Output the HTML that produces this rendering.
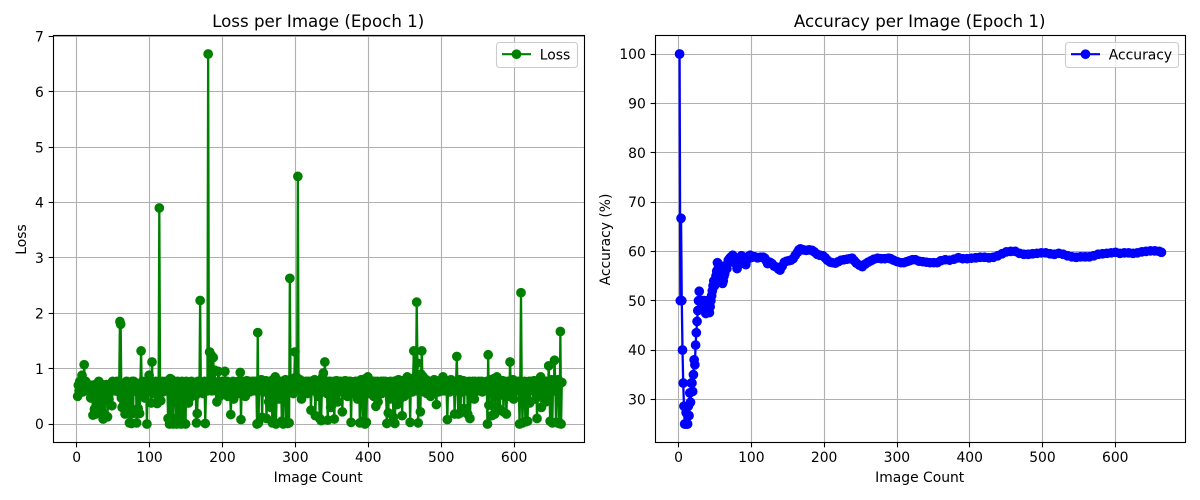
<!DOCTYPE html>
<html lang="en">
<head>
<meta charset="utf-8">
<title>Loss and Accuracy per Image (Epoch 1)</title>
<style>
html,body{margin:0;padding:0;background:#fff}
svg{display:block;font-family:"DejaVu Sans","Liberation Sans",sans-serif}
</style>
</head>
<body>
<svg id="figure" xmlns="http://www.w3.org/2000/svg" width="1200" height="500" viewBox="0 0 1200 500"></svg>
<script>
const xTickLabels = [0, 100, 200, 300, 400, 500, 600];
const lossTickLabels = [0, 1, 2, 3, 4, 5, 6, 7];
const accuracyTickLabels = [30, 40, 50, 60, 70, 80, 90, 100];

/* Loss for images 1, 2, 3, ... (twenty per row) */
const lossValues = [
.50,.70,.60,.77,.58,.58,.88,.58,.70,1.07,.60,.77,.70,.60,.69,.71,.60,.70,.47,.66,
.70,.16,.60,.27,.71,.18,.66,.24,.70,.77,.31,.60,.70,.23,.71,.09,.70,.12,.60,.70,
.71,.13,.60,.45,.70,.58,.71,.33,.77,.60,.69,.71,.60,.60,.77,.70,.58,.71,1.85,1.80,
.47,.30,.70,.35,.58,.18,.71,.77,.25,.60,.70,.02,.60,.71,.01,.77,.19,.77,.60,.70,
.71,.02,.58,.28,.70,.19,.71,1.32,.60,.77,.60,.71,.47,.66,.70,.00,.71,.80,.88,.58,
.70,.38,1.12,.60,.71,.55,.60,.77,.72,.37,.60,.45,3.90,.70,.42,.60,.77,.58,.71,.60,
.70,.77,.60,.71,.10,.60,.00,.82,.02,.80,.78,.00,.76,.40,.70,.10,.00,.77,.02,.72,
.09,.70,.00,.77,.58,.03,.01,.70,.00,.77,.50,.60,.38,.71,.47,.60,.77,.70,.55,.60,
.71,.58,.52,.02,.19,.77,.70,.60,2.23,.60,.71,.60,.55,.70,.77,.01,.60,.70,.60,6.68,
.70,1.30,.77,1.25,.60,.95,1.20,.70,.97,.71,.60,.40,.70,.95,.77,.50,.58,.71,.60,.77,
.70,.60,.95,.71,.60,.77,.50,.60,.70,.71,.17,.58,.60,.77,.45,.70,.71,.60,.60,.70,
.77,.55,.58,.93,.08,.70,.60,.77,.71,.60,.50,.70,.78,.60,.71,.77,.58,.70,.71,.77,
.60,.70,.77,.71,.60,.77,.00,1.65,.02,.70,.60,.73,.80,.12,.71,.58,.60,.77,.78,.10,
.70,.77,.40,.60,.77,.30,.71,.02,.80,.03,.77,.85,.00,.60,.70,.78,.45,.71,.60,.77,
.05,.70,.00,.77,.60,.80,.03,.71,.01,.77,.02,2.63,.70,.58,.82,.77,.55,.77,1.30,.70,
.85,.77,4.47,.60,.77,.80,.70,.45,.77,.58,.60,.76,.70,.77,.60,.55,.77,.70,.58,.77,
.25,.70,.77,.78,.60,.80,.15,.70,.77,.77,.50,.58,.10,.71,.06,.70,.85,.92,.60,1.12,
.77,.70,.55,.07,.58,.77,.77,.30,.70,.35,.60,.77,.09,.70,.45,.78,.58,.40,.77,.70,
.77,.58,.70,.22,.77,.60,.70,.78,.71,.60,.50,.70,.77,.60,.77,.03,.70,.76,.55,.71,
.60,.77,.60,.77,.45,.70,.77,.02,.58,.80,.70,.05,.77,.71,.00,.82,.03,.70,.85,.60,
.77,.55,.78,.70,.58,.77,.50,.77,.60,.32,.70,.77,.40,.58,.76,.70,.77,.55,.60,.77,
.71,.70,.77,.60,.01,.76,.20,.70,.45,.77,.60,.76,.70,.12,.77,.01,.58,.78,.35,.70,
.80,.77,.45,.60,.78,.15,.70,.77,.50,.58,.80,.77,.85,.70,.60,.77,.03,.77,.70,.58,
.78,1.32,.70,.85,.60,2.20,1.10,.02,.78,.70,.22,.90,1.32,.70,.85,.58,.77,.77,.80,.55,
.77,.60,.76,.70,.50,.77,.60,.77,.70,.80,.77,.60,.35,.76,.70,.58,.78,.77,.70,.60,
.76,.85,.70,.60,.78,.77,.60,.08,.70,.77,.58,.77,.80,.70,.77,.60,.77,.18,.70,.76,
1.22,.60,.18,.77,.80,.20,.70,.77,.58,.78,.28,.77,.70,.60,.76,.18,.70,.77,.10,.58,
.76,.70,.77,.60,.45,.77,.70,.76,.60,.60,.77,.60,.70,.76,.77,.58,.70,.60,.75,.70,
.60,.77,.00,1.25,.34,.76,.58,.80,.15,.77,.70,.82,.18,.60,.77,.85,.30,.77,.58,.25,
.70,.77,.60,.78,.22,.77,.50,.70,.18,.58,.77,.77,.50,1.12,.70,.60,.77,.80,.45,.70,
.77,.60,.70,.60,.77,.70,.00,.77,2.37,.70,.02,.58,.60,.77,.04,.70,.76,.05,.60,.77,
.38,.77,.70,.60,.77,.60,.78,.70,.45,.77,.10,.58,.77,.70,.82,.85,.30,.77,.50,.60,
.77,.70,.40,.77,.58,.50,1.05,.70,.05,.58,.80,.02,.77,.60,1.15,.78,.03,.77,.60,.80,
.01,.02,1.67,.00,.75
];

/* Running accuracy: image number and value at that image */
const accuracyCounts = [
1,2,3,4,5,6,7,8,9,10,11,12,13,14,15,16,17,18,19,20,
21,22,23,24,25,26,27,28,29,30,31,32,33,34,35,36,37,38,39,40,
41,42,43,44,45,46,47,48,49,50,51,52,53,54,55,56,57,58,59,60,
61,62,63,64,65,66,67,68,69,70,71,72,73,74,76,78,80,82,84,86,
88,90,92,94,96,98,100,104,108,112,116,118,120,122,125,128,131,134,137,139,
142,145,148,151,154,157,160,163,165,167,171,175,179,183,186,190,194,198,201,204,
208,211,215,219,223,227,231,235,238,241,244,248,252,256,260,264,268,273,278,283,
288,291,295,300,305,309,313,317,321,325,330,335,340,345,350,355,360,366,372,378,
384,390,396,402,408,414,420,426,432,438,444,450,456,462,468,474,480,486,492,498,
504,510,516,522,528,534,540,546,552,558,564,570,576,582,588,594,600,606,612,618,
624,630,636,642,648,654,660,663
];
const accuracyValues = [
100,50,66.7,50,40,33.3,28.6,25,25,27.3,25,25,28.6,26.7,31.3,29.4,33.3,33.3,31.6,35,
38,37,41,43.5,45.8,48,50,51.9,50,48.4,50,48.5,50,48.6,50,48.6,47.4,48.7,50,48.8,
50,47.6,48.8,50,51,52,53,54,53,54,55,56,57.7,56.5,57.3,56,55,54.3,54.5,53.5,
54,55,55.5,56.3,57,56.5,57.5,58.2,57.9,58.6,58.3,58.9,58.5,59.2,58.7,57.5,56.5,57.3,58.5,59.1,
58.2,57.6,57.3,58.3,59,59.2,58.8,58.9,58.7,58.8,58.8,58.6,58.1,57.5,57.8,57.5,57,56.8,56.4,56.2,
57,57.8,58,58.1,58.2,58.5,59.2,59.8,60.3,60.5,60.3,60.2,60.3,60.2,59.9,59.4,59.2,59.1,58.7,58.2,
57.8,57.7,57.6,57.9,58.2,58.3,58.4,58.5,58.6,58.1,57.6,57.2,56.9,57.4,57.8,58.1,58.4,58.6,58.5,58.5,
58.6,58.5,58.2,57.9,57.7,57.7,57.9,58.1,58.3,58.3,58,57.9,57.8,57.7,57.7,57.7,58.1,58.3,58.2,58.4,
58.7,58.5,58.5,58.6,58.7,58.8,58.8,58.7,58.8,59.1,59.5,59.9,60,60,59.6,59.4,59.4,59.5,59.6,59.7,
59.7,59.5,59.4,59.6,59.4,59.1,58.9,58.8,58.9,58.9,58.9,59.1,59.4,59.5,59.6,59.7,59.8,59.6,59.7,59.7,
59.6,59.7,59.9,60,60.1,60.1,60,59.8
];

const lossCounts = lossValues.map(function (v, i) { return i + 1; });
const svgNS = 'http://www.w3.org/2000/svg';
const figure = document.getElementById('figure');

function make(parent, tag, attrs, text) {
  const el = document.createElementNS(svgNS, tag);
  for (const k in attrs) el.setAttribute(k, attrs[k]);
  if (text !== undefined) el.textContent = text;
  parent.appendChild(el);
  return el;
}
function linear(d0, d1, r0, r1) {
  return function (v) { return r0 + (v - d0) * (r1 - r0) / (d1 - d0); };
}
function snap(v) { return Math.floor(v) + 0.5; }

function drawChart(opts) {
  const L = opts.left, R = opts.right, T = 35.5, B = 442.5;
  const xScale = linear(opts.xDomain[0], opts.xDomain[1], L, R);
  const yScale = linear(opts.yDomain[0], opts.yDomain[1], B, T);

  const panel = make(figure, 'g', {});
  
  

  const grid = make(panel, 'g', { stroke: '#b0b0b0', 'stroke-width': 1.11, fill: 'none' });
  
  
  xTickLabels.forEach(function (t) {
    const gx = make(grid, 'line', { x1: snap(xScale(t)), x2: snap(xScale(t)), y1: T, y2: B });
    
    
  });
  opts.yTicks.forEach(function (t) {
    const gy = make(grid, 'line', { x1: L, x2: R, y1: snap(yScale(t)), y2: snap(yScale(t)) });
    
    
  });

  const path = opts.xs.map(function (c, i) {
    return (i ? 'L' : 'M') + xScale(c).toFixed(2) + ' ' + yScale(opts.ys[i]).toFixed(2);
  }).join('');
  const series = make(panel, 'path', { d: path, fill: 'none', stroke: opts.color, 'stroke-width': 2.3, 'stroke-linejoin': 'round' });
  
  

  const points = make(panel, 'g', { fill: opts.color, stroke: opts.color, 'stroke-width': 1.39 });
  
  
  opts.xs.forEach(function (c, i) {
    const dot = make(points, 'circle', { cx: xScale(c).toFixed(2), cy: yScale(opts.ys[i]).toFixed(2), r: 4.17 });
    
    
  });

  const frame = make(panel, 'rect', { x: L, y: T, width: R - L, height: B - T, fill: 'none', stroke: '#000', 'stroke-width': 1.11 });
  
  

  xTickLabels.forEach(function (t) {
    const tx = make(panel, 'line', { x1: snap(xScale(t)), x2: snap(xScale(t)), y1: B, y2: B + 4.86, stroke: '#000', 'stroke-width': 1.11 });
    
    
    const lx = make(panel, 'text', { x: xScale(t) - 0.3, y: B + 19.5, 'text-anchor': 'middle', 'font-size': 13.89, fill: '#000' }, t);
    
    
  });
  opts.yTicks.forEach(function (t) {
    const ty = make(panel, 'line', { x1: L - 4.86, x2: L, y1: snap(yScale(t)), y2: snap(yScale(t)), stroke: '#000', 'stroke-width': 1.11 });
    
    
    const ly = make(panel, 'text', { x: L - 9.7, y: yScale(t) + 5.2, 'text-anchor': 'end', 'font-size': 13.89, fill: '#000' }, t);
    
    
  });

  const title = make(panel, 'text', { x: (L + R) / 2 - 0.8, y: 27, 'text-anchor': 'middle', 'font-size': 16.67, fill: '#000' }, opts.title);
  
  

  const xTitle = make(panel, 'text', { x: (L + R) / 2 - 0.8, y: 482, 'text-anchor': 'middle', 'font-size': 13.89, fill: '#000' }, 'Image Count');
  
  

  const yTitle = make(panel, 'text', { transform: 'translate(' + opts.yTitleX + ' 239.5) rotate(-90)', 'text-anchor': 'middle', 'font-size': 13.89, fill: '#000' }, opts.yTitle);
  
  

  const legend = make(panel, 'g', {});
  
  
  const box = make(legend, 'rect', { x: opts.legendX + 0.5, y: 42.5, width: opts.legendW, height: 25, rx: 3, fill: '#fff', 'fill-opacity': 0.8, stroke: '#ccc', 'stroke-width': 1.11 });
  
  
  const sample = make(legend, 'line', { x1: opts.legendX + 6, x2: opts.legendX + 35, y1: 54.2, y2: 54.2, stroke: opts.color, 'stroke-width': 2.08 });
  
  
  const mark = make(legend, 'circle', { cx: opts.legendX + 20.5, cy: 54.2, r: 4.17, fill: opts.color, stroke: opts.color, 'stroke-width': 1.39 });
  
  
  const label = make(legend, 'text', { x: opts.legendX + 43.8, y: 59.5, 'font-size': 13.89, fill: '#000' }, opts.legendLabel);
  
  
}

drawChart({
  key: 'loss', title: 'Loss per Image (Epoch 1)', yTitle: 'Loss', legendLabel: 'Loss',
  color: '#008000', left: 53.5, right: 584.5,
  xDomain: [-32.1, 696.1], yDomain: [-0.334, 7.014],
  yTicks: lossTickLabels, xs: lossCounts, ys: lossValues,
  yTitleX: 26, legendX: 496, legendW: 81
});
drawChart({
  key: 'accuracy', title: 'Accuracy per Image (Epoch 1)', yTitle: 'Accuracy (%)', legendLabel: 'Accuracy',
  color: '#0000ff', left: 655.5, right: 1185.5,
  xDomain: [-32.1, 696.1], yDomain: [21.25, 103.75],
  yTicks: accuracyTickLabels, xs: accuracyCounts, ys: accuracyValues,
  yTitleX: 610, legendX: 1065, legendW: 113
});
</script>
</body>
</html>
